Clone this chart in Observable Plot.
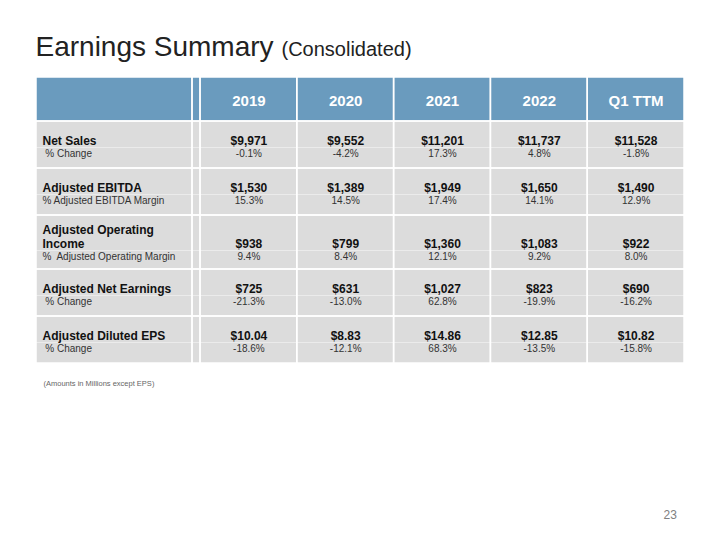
<!DOCTYPE html>
<html><head><meta charset="utf-8">
<script src="https://cdn.jsdelivr.net/npm/d3@7"></script>
<script src="https://cdn.jsdelivr.net/npm/@observablehq/plot@0.6"></script>
<style>
html,body{margin:0;padding:0;background:#fff;}
svg text{white-space:pre;}
</style></head><body><div id="chart"></div>
<script>
// ---- data ----
const periods = ["2019", "2020", "2021", "2022", "Q1 TTM"];
const metricLabels = ["Net Sales", "Adjusted EBITDA", "Adjusted Operating\nIncome", "Adjusted Net Earnings", "Adjusted Diluted EPS"];
const subLabels = [" % Change", "% Adjusted EBITDA Margin", "%  Adjusted Operating Margin", " % Change", " % Change"];
const netSales = [9971, 9552, 11201, 11737, 11528];
const netSalesChange = [-0.1, -4.2, 17.3, 4.8, -1.8];
const adjEbitda = [1530, 1389, 1949, 1650, 1490];
const ebitdaMargin = [15.3, 14.5, 17.4, 14.1, 12.9];
const adjOpIncome = [938, 799, 1360, 1083, 922];
const opMargin = [9.4, 8.4, 12.1, 9.2, 8.0];
const adjNetEarnings = [725, 631, 1027, 823, 690];
const netEarningsChange = [-21.3, -13.0, 62.8, -19.9, -16.2];
const adjDilutedEps = [10.04, 8.83, 14.86, 12.85, 10.82];
const epsChange = [-18.6, -12.1, 68.3, -13.5, -15.8];
const titleText = "Earnings Summary";
const subtitleText = "(Consolidated)";
const footnoteText = "(Amounts in Millions except EPS)";
const pageNumber = "23";

// ---- formatting ----
const money = v => "$" + d3.format(",")(v);
const eps = v => "$" + v.toFixed(2);
const pct = v => v.toFixed(1) + "%";
const mainSeries = [netSales.map(money), adjEbitda.map(money), adjOpIncome.map(money), adjNetEarnings.map(money), adjDilutedEps.map(eps)];
const subSeries = [netSalesChange, ebitdaMargin, opMargin, netEarningsChange, epsChange].map(a => a.map(pct));

// ---- layout (page geometry) ----
const colW = (684 - 200) / periods.length;
const cols = [
  {key: "label", x1: 36, x2: 192},
  {key: "sep", x1: 192, x2: 200},
  ...periods.map((p, i) => ({key: p, x1: 200 + i * colW, x2: 200 + (i + 1) * colW}))
];
const header = {top: 77, bottom: 121, base: 105};
const rows = [
  {top: 121, bottom: 168, main: 144, line: 147, sub: 156},
  {top: 168, bottom: 215, main: 191, line: 194, sub: 203},
  {top: 215, bottom: 269, main: 247, line: 250, sub: 259},
  {top: 269, bottom: 316, main: 292, line: 295, sub: 304},
  {top: 316, bottom: 363, main: 339, line: 342, sub: 351}
];
const labelX = 42;
const cx = c => (c.x1 + c.x2) / 2;

const headerCells = cols.map(c => ({x1: c.x1, x2: c.x2, y1: header.top, y2: header.bottom}));
const bodyCells = rows.flatMap(r => cols.map(c => ({x1: c.x1, x2: c.x2, y1: r.top, y2: r.bottom})));
const faintLines = rows.map(r => ({y: r.line}));
const periodCols = cols.slice(2);
const headerText = periodCols.map(c => ({x: cx(c), y: header.base, text: c.key}));
const mainText = rows.flatMap((r, i) => periodCols.map((c, j) => ({x: cx(c), y: r.main, text: mainSeries[i][j]})));
const subText = rows.flatMap((r, i) => periodCols.map((c, j) => ({x: cx(c), y: r.sub, text: subSeries[i][j]})));
const labelText = rows.map((r, i) => ({x: labelX, y: r.main, text: metricLabels[i]}));
const subLabelText = rows.map((r, i) => ({x: labelX, y: r.sub, text: subLabels[i]}));

const font = "'Liberation Sans', Arial, Helvetica, sans-serif";
const chart = Plot.plot({
  width: 720, height: 540, margin: 0,
  x: {domain: [0, 720], range: [0, 720], axis: null},
  y: {domain: [0, 540], range: [0, 540], axis: null},
  style: {fontFamily: font, background: "#ffffff"},
  marks: [
    Plot.rect(headerCells, {x1: "x1", x2: "x2", y1: "y1", y2: "y2", fill: "#6a9bbe"}),
    Plot.rect(bodyCells, {x1: "x1", x2: "x2", y1: "y1", y2: "y2", fill: "#dcdcdc"}),
    Plot.ruleY(faintLines, {y: "y", x1: 36, x2: 684, stroke: "#ebebeb", strokeWidth: 1}),
    Plot.rect(headerCells.concat(bodyCells), {x1: "x1", x2: "x2", y1: "y1", y2: "y2", fill: "none", stroke: "#ffffff", strokeWidth: 1.5}),
    Plot.text(headerText, {x: "x", y: "y", text: "text", textAnchor: "middle", lineAnchor: "bottom", fontSize: 15, fontWeight: "bold", fill: "#ffffff"}),
    Plot.text(mainText, {x: "x", y: "y", text: "text", textAnchor: "middle", lineAnchor: "bottom", fontSize: 12, fontWeight: "bold", fill: "#111111"}),
    Plot.text(subText, {x: "x", y: "y", text: "text", textAnchor: "middle", lineAnchor: "bottom", fontSize: 10, fill: "#333333"}),
    Plot.text(labelText, {x: "x", y: "y", text: "text", textAnchor: "start", lineAnchor: "bottom", lineHeight: 1.1667, fontSize: 12, fontWeight: "bold", fill: "#111111"}),
    Plot.text(subLabelText, {x: "x", y: "y", text: "text", textAnchor: "start", lineAnchor: "bottom", fontSize: 10, fill: "#333333"}),
    Plot.text([titleText], {x: 35, y: 55, text: d => d, textAnchor: "start", lineAnchor: "bottom", fontSize: 28, fill: "#222222"}),
    Plot.text([subtitleText], {x: 281, y: 55, text: d => d, textAnchor: "start", lineAnchor: "bottom", fontSize: 20, fill: "#222222"}),
    Plot.text([footnoteText], {x: 43, y: 385, text: d => d, textAnchor: "start", lineAnchor: "bottom", fontSize: 7.5, fill: "#666666"}),
    Plot.text([pageNumber], {x: 663, y: 518, text: d => d, textAnchor: "start", lineAnchor: "bottom", fontSize: 12, fill: "#808080"})
  ]
});
document.getElementById("chart").appendChild(chart);
</script></body></html>
